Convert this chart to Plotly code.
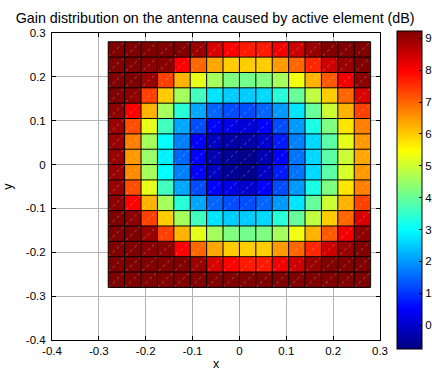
import plotly.graph_objects as go

# ---------------- data ----------------
# cell edges of the antenna surface (m)
x_edges = [-0.28, -0.245, -0.21, -0.175, -0.14, -0.105, -0.07, -0.035, 0.0,
           0.035, 0.07, 0.105, 0.14, 0.175, 0.21, 0.245, 0.28]
y_edges = [-0.28, -0.245, -0.21, -0.175, -0.14, -0.105, -0.07, -0.035, 0.0,
           0.035, 0.07, 0.105, 0.14, 0.175, 0.21, 0.245, 0.28]

# gain (dB) per cell, rows listed from top (y = +0.28) to bottom (y = -0.28)
gain_rows_top_down = [
    [9.23, 9.23, 9.23, 9.23, 9.23, 8.98, 8.36, 7.98, 7.73, 7.73, 8.11, 8.48, 8.98, 9.23, 9.23, 9.23],
    [9.23, 9.23, 9.13, 9.13, 7.98, 6.98, 6.36, 5.99, 5.99, 5.99, 6.49, 6.98, 7.61, 8.48, 8.98, 9.23],
    [9.23, 9.23, 8.98, 7.36, 6.24, 5.24, 4.61, 4.24, 4.12, 4.24, 4.61, 5.36, 6.24, 7.11, 8.11, 9.11],
    [9.23, 9.11, 7.36, 5.99, 4.61, 3.62, 2.74, 2.49, 2.49, 2.62, 3.37, 3.99, 4.86, 5.99, 6.98, 8.36],
    [9.11, 7.98, 6.24, 4.61, 3.37, 2.12, 1.50, 1.25, 1.25, 1.50, 1.99, 2.74, 3.99, 4.99, 6.24, 7.36],
    [8.98, 7.23, 5.24, 3.62, 2.12, 1.25, 0.50, 0.25, 0.12, 0.50, 1.25, 1.99, 3.24, 4.24, 5.74, 6.74],
    [8.98, 6.74, 4.61, 2.99, 1.75, 0.50, -0.13, -0.38, -0.38, 0.00, 0.75, 1.75, 2.62, 3.87, 5.24, 6.49],
    [8.98, 6.49, 4.49, 2.87, 1.50, 0.50, -0.25, -0.50, -0.63, -0.25, 0.50, 1.62, 2.62, 3.87, 4.99, 6.36],
    [8.98, 6.61, 4.61, 2.99, 1.75, 0.50, -0.13, -0.50, -0.63, -0.13, 0.75, 1.62, 2.62, 3.87, 5.11, 6.49],
    [8.98, 7.23, 5.24, 3.62, 2.12, 1.25, 0.50, 0.25, 0.00, 0.50, 1.25, 1.99, 3.24, 4.24, 5.74, 6.74],
    [9.11, 7.98, 6.24, 4.61, 3.37, 2.12, 1.50, 1.25, 1.25, 1.50, 1.99, 2.74, 3.99, 4.99, 6.24, 7.36],
    [9.23, 9.11, 7.36, 5.99, 4.61, 3.62, 2.74, 2.49, 2.49, 2.62, 3.37, 3.99, 4.86, 5.99, 6.98, 8.36],
    [9.23, 9.23, 8.98, 7.36, 6.24, 5.24, 4.61, 4.24, 4.12, 4.24, 4.61, 5.36, 6.24, 7.11, 8.11, 9.11],
    [9.23, 9.23, 9.13, 9.13, 7.98, 6.98, 6.36, 5.99, 5.99, 5.99, 6.49, 6.98, 7.61, 8.48, 8.98, 9.23],
    [9.23, 9.23, 9.23, 9.23, 9.23, 8.98, 8.36, 7.98, 7.73, 7.73, 8.11, 8.48, 8.98, 9.23, 9.23, 9.23],
    [9.23, 9.23, 9.23, 9.23, 9.23, 9.23, 9.23, 9.23, 9.23, 9.23, 9.23, 9.23, 9.23, 9.23, 9.23, 9.23],
]

color_min = -0.75
color_max = 9.23
cbar_ticks = [0, 1, 2, 3, 4, 5, 6, 7, 8, 9]

axis_ticks = [-0.4, -0.3, -0.2, -0.1, 0.0, 0.1, 0.2, 0.3]
axis_tick_labels = ["-0.4", "-0.3", "-0.2", "-0.1", "0", "0.1", "0.2", "0.3"]

title_text = "Gain distribution on the antenna caused by active element (dB)"

# ---------------- figure ----------------
gain_bottom_up = gain_rows_top_down[::-1]

jet = [
    [0.0, "rgb(0,0,128)"],
    [0.125, "rgb(0,0,255)"],
    [0.375, "rgb(0,255,255)"],
    [0.625, "rgb(255,255,0)"],
    [0.875, "rgb(255,0,0)"],
    [1.0, "rgb(128,0,0)"],
]

FONT = "Liberation Sans, Arial, sans-serif"

fig = go.Figure()
fig.add_trace(go.Heatmap(
    x=x_edges, y=y_edges, z=gain_bottom_up,
    colorscale=jet, zmin=color_min, zmax=color_max,
    hoverinfo="skip",
    colorbar=dict(
        x=1.052, xanchor="left", xpad=0, ypad=0,
        y=0.4886, yanchor="middle",
        lenmode="pixels", len=318,
        thickness=25,
        outlinecolor="black", outlinewidth=1,
        tickvals=cbar_ticks, ticktext=[str(t) for t in cbar_ticks],
        ticks="inside", ticklen=3, tickcolor="black",
        tickfont=dict(family=FONT, size=11.5, color="black"),
    ),
))

# faint diagonal lines of the triangulated facets
n = len(x_edges) - 1
dx, dy = [], []
for k in range(-(n - 1), n):
    i0 = max(0, k)
    j0 = max(0, -k)
    steps = n - max(i0, j0)
    dx += [x_edges[i0], x_edges[i0 + steps], None]
    dy += [y_edges[j0], y_edges[j0 + steps], None]
fig.add_trace(go.Scatter(
    x=dx, y=dy, mode="lines", hoverinfo="skip", showlegend=False,
    line=dict(color="rgba(255,255,255,0.3)", width=1, dash="dot"),
))

# black facet edges
ex, ey = [], []
for xv in x_edges:
    ex += [xv, xv, None]
    ey += [y_edges[0], y_edges[-1], None]
for yv in y_edges:
    ex += [x_edges[0], x_edges[-1], None]
    ey += [yv, yv, None]
fig.add_trace(go.Scatter(
    x=ex, y=ey, mode="lines", hoverinfo="skip", showlegend=False,
    line=dict(color="black", width=1),
))

axis_common = dict(
    tickvals=axis_ticks, ticktext=axis_tick_labels,
    ticks="inside", ticklen=4, tickcolor="black",
    showline=True, linecolor="black", linewidth=1, mirror="ticks",
    showgrid=True, gridcolor="#b4b4b4", gridwidth=1,
    zeroline=False,
    tickfont=dict(family=FONT, size=11.5, color="black"),
    title_font=dict(family=FONT, size=12.5, color="black"),
)

fig.update_layout(
    width=432, height=371,
    margin=dict(l=52, r=52, t=33, b=31, autoexpand=False),
    paper_bgcolor="white", plot_bgcolor="white",
    showlegend=False,
    title=dict(text=title_text, x=0.498, xref="container", xanchor="center",
               y=1 - 18 / 371, yref="container", yanchor="middle",
               font=dict(family=FONT, size=14.3, color="black")),
    xaxis=dict(range=[-0.4, 0.3], title=dict(text="x", standoff=3), **axis_common),
    yaxis=dict(range=[-0.4, 0.3], title=dict(text="y", standoff=10),
               ticklabelstandoff=3, **axis_common),
)

fig.write_html(
    "out.html",
    config={"displayModeBar": False},
    post_script="document.body.style.margin='0';document.body.style.overflow='hidden';",
)
